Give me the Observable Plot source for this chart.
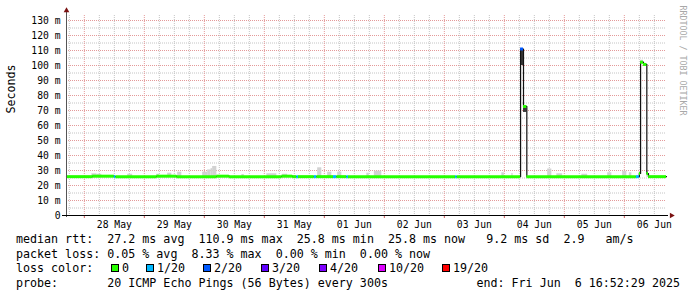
<!DOCTYPE html>
<html><head><meta charset="utf-8">
<script src="https://cdn.jsdelivr.net/npm/d3@7"></script>
<script src="https://cdn.jsdelivr.net/npm/@observablehq/plot@0.6"></script>
<style>
html,body{margin:0;padding:0;background:#fff;}
#wrap{position:relative;width:697px;height:297px;overflow:hidden;font-family:"DejaVu Sans Mono",monospace;color:#000;}
#chart{position:absolute;left:0;top:0;}
.lg{position:absolute;left:16px;font-size:11.66px;line-height:14.67px;white-space:pre;}
.sq{position:absolute;width:6px;height:6px;border:1px solid #000;}
.lt{position:absolute;font-size:11.66px;line-height:14.67px;white-space:pre;}
</style></head>
<body><div id="wrap"><div id="chart"></div></div>
<script>
// ---- data ----
const startTime = "05-27 16:52";
const endTime = "06-06 16:52";

// median rtt (ms), step segments: start time, value, lost pings (of 20)
const medStart = ["05-27 16:52","05-28 03:20","05-28 12:00","05-28 12:40","05-29 05:00","05-29 13:00","05-30 05:00","05-30 10:00","05-31 07:00","05-31 11:20","05-31 13:00","05-31 13:40","05-31 20:00","05-31 21:00","06-01 03:40","06-01 05:00","06-01 09:00","06-01 09:40","06-03 04:30","06-03 05:10","06-04 06:30","06-04 07:40","06-04 09:00","06-06 04:50","06-06 06:00","06-06 06:30","06-06 07:40","06-06 09:00","06-06 09:40"];
const medValue = [25.9,26.2,25.9,25.9,26.2,25.9,26.2,25.9,26.2,25.9,25.9,25.9,25.9,25.9,25.9,25.9,25.9,25.9,25.9,25.9,111.0,72.7,25.9,25.9,28.0,102.2,100.7,28.0,25.9];
const medLoss = [0,0,1,0,0,0,0,0,0,0,1,0,1,0,1,0,1,0,1,0,2,0,0,1,0,0,0,0,0];

// smoke (spread of pings, ms)
const smokeStart = ["05-28 03:00","05-28 05:00","05-28 17:20","05-29 05:00","05-29 09:20","05-29 13:20","05-29 23:20","05-30 01:20","05-30 02:40","05-30 03:20","05-30 15:00","05-31 01:00","05-31 07:20","05-31 21:20","06-01 01:20","06-01 05:20","06-01 17:00","06-01 20:00","06-03 23:00","06-04 03:00","06-04 06:30","06-04 07:40","06-04 17:20","06-04 21:00","06-05 07:00","06-05 17:20","06-05 23:20","06-06 02:00","06-06 06:30","06-06 09:00"];
const smokeEnd = ["05-28 05:00","05-28 07:00","05-28 19:20","05-29 06:00","05-29 11:00","05-29 15:00","05-30 01:20","05-30 02:40","05-30 03:20","05-30 05:00","05-30 16:00","05-31 05:00","05-31 09:20","05-31 23:00","06-01 03:00","06-01 07:00","06-01 18:00","06-01 23:00","06-04 00:00","06-04 03:30","06-04 07:40","06-04 09:00","06-04 19:00","06-04 23:20","06-05 09:20","06-05 19:00","06-06 01:00","06-06 03:00","06-06 07:40","06-06 09:40"];
const smokeLow = [25.5,25.5,25.5,25.5,25.5,25.5,25.5,25.5,25.5,25.5,25.5,25.5,25.5,25.5,25.5,25.5,25.5,25.5,25.5,25.5,100.0,68.7,25.5,25.5,25.5,25.5,25.5,25.5,101.0,25.5];
const smokeHigh = [27.8,27.5,27.5,27.5,28.2,28.9,28.9,30.4,31.2,32.7,27.3,27.8,27.5,31.8,28.9,28.9,28.2,29.5,28.5,28.0,111.0,72.7,31.0,27.8,27.5,28.5,29.5,28.5,103.5,30.0];
const smokeDense = [0,0,0,0,0,0,0,0,0,0,0,0,0,0,0,0,0,0,0,0,1,1,0,0,0,0,0,0,0,0];

// loss colour legend
const lossLevels = [0,1,2,3,4,10,19];
const lossLabels = ["0","1/20","2/20","3/20","4/20","10/20","19/20"];
const lossColors = ["#26ff00","#00b8ff","#0059ff","#5e00ff","#7e00ff","#dd00ff","#ff0000"];

// axis ticks
const yMax = 400/3;
const yMajor = [10,20,30,40,50,60,70,80,90,100,110,120,130];
const yMinor = [5,15,25,35,45,55,65,75,85,95,105,115,125];
const yLabels = [0,10,20,30,40,50,60,70,80,90,100,110,120,130];
const dayLabels = ["05-28 12:00","05-29 12:00","05-30 12:00","05-31 12:00","06-01 12:00","06-02 12:00","06-03 12:00","06-04 12:00","06-05 12:00","06-06 12:00"];

// legend text
const line1 = "median rtt:  27.2 ms avg  110.9 ms max  25.8 ms min  25.8 ms now   9.2 ms sd  2.9   am/s";
const line2 = "packet loss: 0.05 % avg  8.33 % max  0.00 % min  0.00 % now";
const line3 = "loss color:";
const line4 = "probe:       20 ICMP Echo Pings (56 Bytes) every 300s";
const line4r = "end: Fri Jun  6 16:52:29 2025";
const yTitle = "Seconds";
const credit = "RRDTOOL / TOBI OETIKER";

// ---- build ----
const parse = s => new Date(`2025-${s.replace(" ", "T")}:00Z`);
const x0 = parse(startTime), x1 = parse(endTime);
const lossColor = l => lossColors[lossLevels.indexOf(l)];

const medRows = medStart.map((s, i) => ({
  t0: parse(s), t1: i + 1 < medStart.length ? parse(medStart[i + 1]) : x1,
  v: medValue[i], loss: medLoss[i]
}));
const medLine = medRows.map(r => ({t: r.t0, v: r.v})).concat([{t: x1, v: medValue[medValue.length - 1]}]);
const smokeRows = smokeStart.map((s, i) => ({
  t0: parse(s), t1: parse(smokeEnd[i]), lo: smokeLow[i], hi: smokeHigh[i], dense: smokeDense[i]
}));

const dayLines = d3.utcDay.range(x0, x1);
const quarterLines = d3.utcHour.every(6).range(x0, x1).filter(d => d.getUTCHours() !== 0);
const labelTimes = dayLabels.map(parse);

const gridMinor = {stroke: "#c4c4c4", strokeDasharray: "1,1", strokeWidth: 1};
const gridMajor = {stroke: "#e49a9a", strokeDasharray: "1,1", strokeWidth: 1};
const arrowCol = "#7a1212";

const chart = Plot.plot({
  width: 697, height: 232,
  marginLeft: 66, marginRight: 31, marginTop: 15, marginBottom: 17,
  x: {type: "utc", domain: [x0, x1]},
  y: {domain: [0, yMax]},
  style: {fontFamily: "DejaVu Sans Mono", fontSize: "9.7px", background: "transparent", color: "#000", overflow: "visible"},
  marks: [
    Plot.ruleX(quarterLines, gridMinor),
    Plot.ruleY(yMinor, gridMinor),
    Plot.ruleX(dayLines, gridMajor),
    Plot.ruleY(yMajor, gridMajor),
    Plot.rect(smokeRows, {x1: "t0", x2: "t1", y1: "lo", y2: "hi", fill: d => d.dense ? "#3a3a3a" : "#d2d2d2"}),
    Plot.line(medLine, {x: "t", y: "v", curve: "step-after", stroke: "#111", strokeWidth: 1.2}),
    Plot.ruleY(medRows, {y: "v", x1: "t0", x2: "t1", stroke: d => lossColor(d.loss), strokeWidth: 3}),
    Plot.ruleX(dayLines, {y1: 0, y2: 0, insetBottom: -3, stroke: "#d06060"}),
    Plot.ruleX([x0], {stroke: "#555", insetTop: -5, insetBottom: -2}),
    Plot.ruleY([0], {stroke: "#000", insetLeft: -4, insetRight: -2}),
    Plot.dot([x1], {x: d => d, y: 0, symbol: "triangle", rotate: 90, r: 2.1, dx: 5, fill: arrowCol, stroke: "none"}),
    Plot.dot([x0], {x: d => d, y: yMax, symbol: "triangle", r: 2.1, dy: -5, fill: arrowCol, stroke: "none"}),
    Plot.axisY(yLabels, {tickFormat: d => d === 0 ? "0" : `${d} m`, tickSize: 0, tickPadding: 6, label: null}),
    Plot.axisX(labelTimes, {tickFormat: d3.utcFormat("%d %b"), tickSize: 0, tickPadding: 6, label: null}),
    Plot.text([yTitle], {frameAnchor: "left", rotate: -90, dx: -55, dy: -2, fontSize: 11.66, fill: "#000"}),
    Plot.text([credit], {frameAnchor: "top-right", rotate: 90, textAnchor: "start", dx: 19, dy: -10, fontSize: 8.3, fill: "#a8a8a8"})
  ]
});
const wrap = document.getElementById("wrap");
document.getElementById("chart").appendChild(chart);

// legend below the plot
const tops = [232, 232 + 14.67, 232 + 2 * 14.67, 232 + 3 * 14.67];
function addLine(txt, top, cls, extra) {
  const d = document.createElement("div");
  d.className = cls; d.textContent = txt; d.style.top = top + "px";
  if (extra) Object.assign(d.style, extra);
  wrap.appendChild(d);
}
addLine(line1, tops[0], "lg");
addLine(line2, tops[1], "lg");
addLine(line3, tops[2], "lg");
addLine(line4, tops[3], "lg");
addLine(line4r, tops[3], "lt", {right: "17px"});
const sqLeft = [111, 146, 203, 261, 319, 378, 442];
lossLabels.forEach((lab, i) => {
  const s = document.createElement("div");
  s.className = "sq"; s.style.left = sqLeft[i] + "px"; s.style.top = (tops[2] + 3) + "px";
  s.style.background = lossColors[i];
  wrap.appendChild(s);
  addLine(lab, tops[2], "lt", {left: (sqLeft[i] + 11) + "px"});
});
</script>
</body></html>
